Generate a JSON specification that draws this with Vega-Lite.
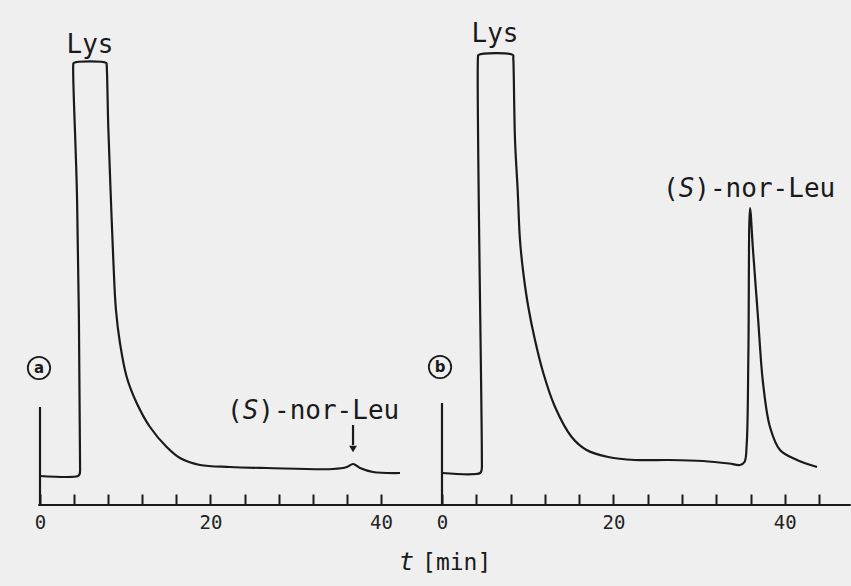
{
  "$schema": "https://vega.github.io/schema/vega-lite/v6.json",
  "width": 851,
  "height": 505,
  "autosize": {"type": "none"},
  "padding": {"left": 0, "top": 0, "right": 0, "bottom": 81},
  "background": "#efefef",
  "config": {"view": {"stroke": null}, "font": "DejaVu Sans Mono"},
  "datasets": {
    "a_trace": [
      {"i": 0, "t": 0, "v": 29}, {"i": 1, "t": 4.45, "v": 29}, {"i": 2, "t": 4.65, "v": 31}, {"i": 3, "t": 4.7, "v": 40},
      {"i": 4, "t": 4.35, "v": 305}, {"i": 5, "t": 3.9, "v": 440}, {"i": 6, "t": 3.95, "v": 442}, {"i": 7, "t": 7.78, "v": 442},
      {"i": 8, "t": 7.82, "v": 440}, {"i": 9, "t": 8.01, "v": 378}, {"i": 10, "t": 8.29, "v": 312}, {"i": 11, "t": 8.6, "v": 245},
      {"i": 12, "t": 8.91, "v": 195}, {"i": 13, "t": 9.38, "v": 162}, {"i": 14, "t": 10.17, "v": 128}, {"i": 15, "t": 11.34, "v": 102},
      {"i": 16, "t": 12.9, "v": 78}, {"i": 17, "t": 14.86, "v": 58}, {"i": 18, "t": 16.42, "v": 47}, {"i": 19, "t": 18.77, "v": 40},
      {"i": 20, "t": 22.29, "v": 38}, {"i": 21, "t": 26.6, "v": 37}, {"i": 22, "t": 34.37, "v": 36},
      {"i": 23, "t": 36.0, "v": 38}, {"i": 24, "t": 36.72, "v": 41}, {"i": 25, "t": 37.54, "v": 37}, {"i": 26, "t": 39.06, "v": 33},
      {"i": 27, "t": 42.23, "v": 32}
    ],
    "b_trace": [
      {"i": 0, "t": 0, "v": 32}, {"i": 1, "t": 4.45, "v": 32}, {"i": 2, "t": 4.62, "v": 35}, {"i": 3, "t": 4.65, "v": 48},
      {"i": 4, "t": 4.2, "v": 448}, {"i": 5, "t": 4.25, "v": 450}, {"i": 6, "t": 8.28, "v": 450}, {"i": 7, "t": 8.32, "v": 447},
      {"i": 8, "t": 8.52, "v": 365}, {"i": 9, "t": 8.83, "v": 315}, {"i": 10, "t": 9.1, "v": 265}, {"i": 11, "t": 9.49, "v": 232},
      {"i": 12, "t": 10.07, "v": 198}, {"i": 13, "t": 10.85, "v": 165}, {"i": 14, "t": 11.82, "v": 132}, {"i": 15, "t": 13.19, "v": 98},
      {"i": 16, "t": 15.13, "v": 68}, {"i": 17, "t": 16.87, "v": 55}, {"i": 18, "t": 19.4, "v": 48}, {"i": 19, "t": 22.52, "v": 45},
      {"i": 20, "t": 26.5, "v": 45}, {"i": 21, "t": 30.45, "v": 44}, {"i": 22, "t": 33.5, "v": 41.5},
      {"i": 23, "t": 34.77, "v": 40}, {"i": 24, "t": 35.3, "v": 43}, {"i": 25, "t": 35.55, "v": 60}, {"i": 26, "t": 35.75, "v": 150},
      {"i": 27, "t": 35.94, "v": 297}, {"i": 28, "t": 36.29, "v": 255}, {"i": 29, "t": 36.87, "v": 188}, {"i": 30, "t": 37.46, "v": 122},
      {"i": 31, "t": 38.27, "v": 78}, {"i": 32, "t": 39.44, "v": 55}, {"i": 33, "t": 41.42, "v": 45}, {"i": 34, "t": 43.76, "v": 38}
    ],
    "a_rules": [
      {"t": -0.2, "t2": 95.1, "v": 0, "v2": 0},
      {"t": 0, "t2": 0, "v": 0, "v2": 98},
      {"t": 36.72, "t2": 36.72, "v": 80, "v2": 60}
    ],
    "b_rules": [
      {"t": 0, "t2": 0, "v": 0, "v2": 102}
    ],
    "a_notes": [
      {"t": 5.87, "v": 452, "label": "Lys"},
      {"t": 21.94, "v": 86, "label": "(S)-nor-Leu"},
      {"t": -0.12, "v": 137, "label": "a"},
      {"t": 36.72, "v": 56, "label": "arrow"}
    ],
    "b_notes": [
      {"t": 6.18, "v": 463, "label": "Lys"},
      {"t": 25.79, "v": 308, "label": "(S)-nor-Leu"},
      {"t": -0.23, "v": 138, "label": "b"},
      {"t": -2.33, "v": -65, "label": "[min]"}
    ]
  },
  "layer": [
    {
      "encoding": {
        "x": {"field": "t", "type": "quantitative",
          "scale": {"domain": [-4.692, 95.132], "nice": false, "zero": false},
          "axis": {"orient": "bottom", "values": [0, 4, 8, 12, 16, 20, 24, 28, 32, 36, 40], "domain": false, "grid": false,
            "tickSize": -11, "tickWidth": 2, "tickColor": "#1a1a1a", "labelExpr": "datum.value % 20 === 0 ? datum.label : ''",
            "labelFont": "DejaVu Sans Mono", "labelFontSize": 19, "labelColor": "#222", "labelPadding": 19,
            "labelOverlap": false, "labelFlush": false, "title": null}},
        "y": {"field": "v", "type": "quantitative", "scale": {"domain": [0, 505], "nice": false, "zero": false}, "axis": null}
      },
      "layer": [
        {"data": {"name": "a_rules"}, "mark": {"type": "rule", "color": "#1a1a1a", "strokeWidth": 2.2},
          "encoding": {"x2": {"field": "t2"}, "y2": {"field": "v2"}}},
        {"data": {"name": "a_trace"}, "mark": {"type": "line", "color": "#1a1a1a", "strokeWidth": 2.2, "interpolate": "catmull-rom"},
          "encoding": {"order": {"field": "i", "type": "quantitative"}}},
        {"data": {"name": "a_notes"}, "transform": [{"filter": "datum.label === 'arrow'"}],
          "mark": {"type": "point", "shape": "triangle-down", "filled": true, "size": 60, "color": "#1a1a1a", "opacity": 1}},
        {"data": {"name": "a_notes"}, "transform": [{"filter": "datum.label === 'Lys'"}],
          "mark": {"type": "text", "font": "DejaVu Sans Mono", "fontSize": 26, "align": "center", "baseline": "alphabetic", "color": "#1a1a1a"},
          "encoding": {"text": {"field": "label"}}},
        {"data": {"name": "a_notes"}, "transform": [{"filter": "datum.label === '(S)-nor-Leu'"}],
          "mark": {"type": "text", "font": "DejaVu Sans Mono", "fontSize": 26, "align": "left", "baseline": "alphabetic", "color": "#1a1a1a"},
          "encoding": {"text": {"value": "("}}},
        {"data": {"name": "a_notes"}, "transform": [{"filter": "datum.label === '(S)-nor-Leu'"}],
          "mark": {"type": "text", "font": "DejaVu Sans Mono", "fontSize": 26, "fontStyle": "italic", "align": "left", "baseline": "alphabetic", "color": "#1a1a1a", "dx": 15.65},
          "encoding": {"text": {"value": "S"}}},
        {"data": {"name": "a_notes"}, "transform": [{"filter": "datum.label === '(S)-nor-Leu'"}],
          "mark": {"type": "text", "font": "DejaVu Sans Mono", "fontSize": 26, "align": "left", "baseline": "alphabetic", "color": "#1a1a1a", "dx": 31.3},
          "encoding": {"text": {"value": ")-nor-Leu"}}},
        {"data": {"name": "a_notes"}, "transform": [{"filter": "datum.label === 'a'"}],
          "mark": {"type": "point", "shape": "circle", "filled": false, "size": 500, "strokeWidth": 1.8, "color": "#1a1a1a", "opacity": 1}},
        {"data": {"name": "a_notes"}, "transform": [{"filter": "datum.label === 'a'"}],
          "mark": {"type": "text", "font": "DejaVu Sans", "fontSize": 15, "fontWeight": "bold", "align": "center", "baseline": "middle", "color": "#1a1a1a"},
          "encoding": {"text": {"field": "label"}}}
      ]
    },
    {
      "encoding": {
        "x": {"field": "t", "type": "quantitative",
          "scale": {"domain": [-51.575, 47.725], "nice": false, "zero": false},
          "axis": {"orient": "bottom", "values": [0, 4, 8, 12, 16, 20, 24, 28, 32, 36, 40, 44], "domain": false, "grid": false,
            "tickSize": -11, "tickWidth": 2, "tickColor": "#1a1a1a", "labelExpr": "datum.value % 20 === 0 ? datum.label : ''",
            "labelFont": "DejaVu Sans Mono", "labelFontSize": 19, "labelColor": "#222", "labelPadding": 19,
            "labelOverlap": false, "labelFlush": false, "title": null}},
        "y": {"field": "v", "type": "quantitative", "scale": {"domain": [0, 505], "nice": false, "zero": false}, "axis": null}
      },
      "layer": [
        {"data": {"name": "b_rules"}, "mark": {"type": "rule", "color": "#1a1a1a", "strokeWidth": 2.2},
          "encoding": {"x2": {"field": "t2"}, "y2": {"field": "v2"}}},
        {"data": {"name": "b_trace"}, "mark": {"type": "line", "color": "#1a1a1a", "strokeWidth": 2.2, "interpolate": "catmull-rom"},
          "encoding": {"order": {"field": "i", "type": "quantitative"}}},
        {"data": {"name": "b_notes"}, "transform": [{"filter": "datum.label === 'Lys'"}],
          "mark": {"type": "text", "font": "DejaVu Sans Mono", "fontSize": 26, "align": "center", "baseline": "alphabetic", "color": "#1a1a1a"},
          "encoding": {"text": {"field": "label"}}},
        {"data": {"name": "b_notes"}, "transform": [{"filter": "datum.label === '(S)-nor-Leu'"}],
          "mark": {"type": "text", "font": "DejaVu Sans Mono", "fontSize": 26, "align": "left", "baseline": "alphabetic", "color": "#1a1a1a"},
          "encoding": {"text": {"value": "("}}},
        {"data": {"name": "b_notes"}, "transform": [{"filter": "datum.label === '(S)-nor-Leu'"}],
          "mark": {"type": "text", "font": "DejaVu Sans Mono", "fontSize": 26, "fontStyle": "italic", "align": "left", "baseline": "alphabetic", "color": "#1a1a1a", "dx": 15.65},
          "encoding": {"text": {"value": "S"}}},
        {"data": {"name": "b_notes"}, "transform": [{"filter": "datum.label === '(S)-nor-Leu'"}],
          "mark": {"type": "text", "font": "DejaVu Sans Mono", "fontSize": 26, "align": "left", "baseline": "alphabetic", "color": "#1a1a1a", "dx": 31.3},
          "encoding": {"text": {"value": ")-nor-Leu"}}},
        {"data": {"name": "b_notes"}, "transform": [{"filter": "datum.label === 'b'"}],
          "mark": {"type": "point", "shape": "circle", "filled": false, "size": 500, "strokeWidth": 1.8, "color": "#1a1a1a", "opacity": 1}},
        {"data": {"name": "b_notes"}, "transform": [{"filter": "datum.label === 'b'"}],
          "mark": {"type": "text", "font": "DejaVu Sans", "fontSize": 15, "fontWeight": "bold", "align": "center", "baseline": "middle", "color": "#1a1a1a"},
          "encoding": {"text": {"field": "label"}}},
        {"data": {"name": "b_notes"}, "transform": [{"filter": "datum.label === '[min]'"}],
          "mark": {"type": "text", "font": "DejaVu Sans Mono", "fontSize": 23, "align": "left", "baseline": "alphabetic", "color": "#1a1a1a"},
          "encoding": {"text": {"field": "label"}}},
        {"data": {"name": "b_notes"}, "transform": [{"filter": "datum.label === '[min]'"}],
          "mark": {"type": "text", "font": "DejaVu Sans Mono", "fontSize": 25, "fontStyle": "italic", "align": "right", "baseline": "alphabetic", "color": "#1a1a1a", "dx": -8},
          "encoding": {"text": {"value": "t"}}}
      ]
    }
  ],
  "resolve": {"scale": {"x": "independent"}, "axis": {"x": "independent"}}
}
